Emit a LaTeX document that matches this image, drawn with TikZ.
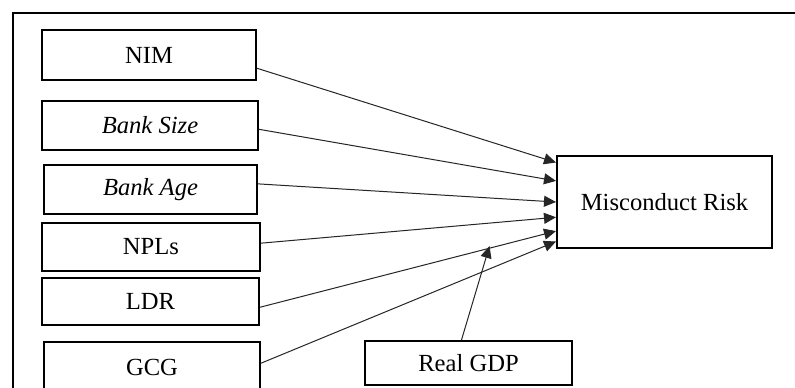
\documentclass[tikz,border=0pt]{standalone}
\usepackage{fontspec}
\setmainfont{Liberation Serif}
\usetikzlibrary{arrows.meta}
\begin{document}
\begin{tikzpicture}[x=0.5pt,y=-0.5pt,
  varbox/.style={draw=black,line width=1pt,fill=white,inner sep=0pt,
    font=\fontsize{12.3}{14}\selectfont},
  link/.style={draw=black!85,line width=0.5pt,-{Triangle[length=6pt,width=5.5pt]}}]
\clip (0,0) rectangle (795,387);
\fill[white] (0,0) rectangle (795,387);
% outer frame (cut off at right and bottom)
\draw[line width=1pt] (13,420) -- (13,13) -- (820,13);
% source boxes
\node[varbox,minimum width=107pt,minimum height=25pt] (nim) at (149,55) {NIM};
\node[varbox,minimum width=108pt,minimum height=24.5pt] (bsize) at (150,125.5) {\textit{Bank Size}};
\node[varbox,minimum width=106.5pt,minimum height=24.5pt] (bage) at (150.5,189.5) {\textit{Bank Age}};
\node[varbox,minimum width=109pt,minimum height=24pt] (npl) at (151,247) {NPLs};
\node[varbox,minimum width=108.5pt,minimum height=23.5pt] (ldr) at (150.5,301.5) {LDR};
\node[varbox,minimum width=108pt,minimum height=25pt] (gcg) at (152,367) {GCG};
\node[varbox,minimum width=103.5pt,minimum height=22pt] (rgdp) at (468.5,363) {Real GDP};
% target
\node[varbox,minimum width=107.5pt,minimum height=46pt] (mr) at (664.5,202) {Misconduct Risk};
\coordinate (gdptip) at (489.5,246);
% connectors
\draw[link] (nim.-7) -- (mr.160.1);
\draw[link] (bsize.-2) -- (mr.169.5);
\draw[link] (bage.3.5) -- (mr.180);
\draw[link] (npl.2) -- (mr.188.5);
\draw[link] (ldr.-3.3) -- (mr.195.6);
\draw[link] (gcg.2.6) -- (mr.200.9);
\draw[link] (rgdp.107) -- (gdptip);
\end{tikzpicture}
\end{document}
